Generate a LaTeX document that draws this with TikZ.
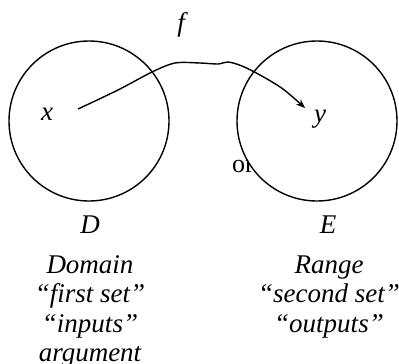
\documentclass[tikz,border=0pt]{standalone}
\usepackage{fontspec}
\setmainfont{Liberation Serif}
\usetikzlibrary{arrows.meta}
\begin{document}
\begin{tikzpicture}[x=1pt,y=-1pt,
  setc/.style={draw=black,fill=white,line width=1.4pt},
  lbl/.style={anchor=base,inner sep=0pt,font=\fontsize{27}{32}\selectfont\itshape},
  orlbl/.style={anchor=base west,inner sep=0pt,font=\fontsize{26}{31}\selectfont},
  conn/.style={line width=1.4pt,-{Stealth[length=9pt,width=7pt]}}]
\useasboundingbox (0,0) rectangle (399,364);
\node[orlbl] (or) at (232,172) {or};
\node[setc,circle,minimum size=160pt,inner sep=0pt] (D) at (89,121) {};
\node[setc,circle,minimum size=160pt,inner sep=0pt] (E) at (317,121) {};
\node[lbl] (x) at (47,120) {x};
\node[lbl] (y) at (320,122) {y};
\node[lbl] (f) at (181,31) {f};
\coordinate (s) at (78,109);
\coordinate (t) at (305,108);
\draw[conn] plot[smooth,tension=0.5] coordinates {(s) (118,90) (152,72) (175,63) (200,63) (218,64) (228,62) (242,66) (260,75) (283,89) (t)};
\node[lbl] (Dl) at (90,233) {D};
\node[lbl] (d1) at (90,273) {Domain};
\node[lbl] (d2) at (90,302) {“first set”};
\node[lbl] (d3) at (90,332) {“inputs”};
\node[lbl] (d4) at (90,361) {argument};
\node[lbl] (El) at (328,233) {E};
\node[lbl] (e1) at (329,273) {Range};
\node[lbl] (e2) at (329,302) {“second set”};
\node[lbl] (e3) at (329,332) {“outputs”};
\end{tikzpicture}
\end{document}
